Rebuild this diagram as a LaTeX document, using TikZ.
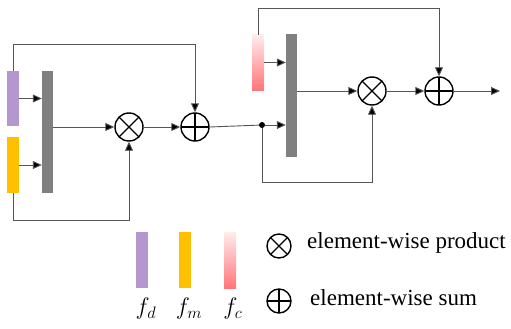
\documentclass[tikz,border=0pt]{standalone}
\usepackage{fontspec}
\setmainfont{Liberation Serif}
\usetikzlibrary{arrows.meta}
\definecolor{fdpurple}{RGB}{180,151,207}
\definecolor{fmyellow}{RGB}{255,192,0}
\definecolor{fcpinktop}{RGB}{255,236,236}
\definecolor{fcpinkbot}{RGB}{255,118,122}
\definecolor{catgray}{RGB}{128,128,128}
\definecolor{wiregray}{RGB}{85,85,85}
\newcommand{\featname}[1]{\scalebox{1.15}{\huge$#1$}}
\tikzset{
  bar/.style={rectangle,inner sep=0pt,minimum width=12pt,minimum height=55pt,draw=none},
  catbar/.style={rectangle,inner sep=0pt,minimum width=11pt,fill=catgray,draw=none},
  pinkbar/.style={bar,top color=fcpinktop,bottom color=fcpinkbot},
  wire/.style={draw=wiregray,line width=0.9pt},
  flow/.style={wire,-{Triangle[length=9pt,width=8pt,fill=black]}},
  prodop/.style={circle,draw=black,line width=1.4pt,inner sep=0pt,minimum size=#1,
    path picture={\draw[line width=1.2pt] (path picture bounding box.north west) -- (path picture bounding box.south east)
      (path picture bounding box.north east) -- (path picture bounding box.south west);}},
  sumop/.style={circle,draw=black,line width=1.4pt,inner sep=0pt,minimum size=#1,
    path picture={\draw[line width=1.2pt] (path picture bounding box.north) -- (path picture bounding box.south)
      (path picture bounding box.east) -- (path picture bounding box.west);}}
}
\begin{document}
\begin{tikzpicture}[x=1pt,y=-1pt]
\useasboundingbox (0,0) rectangle (511,329);
% first fusion stage
\node[bar,fill=fdpurple] (fd) at (13,98.5) {};
\node[bar,fill=fmyellow,minimum height=56pt] (fm) at (13,165) {};
\node[catbar,minimum height=122pt] (cat1) at (47.5,132) {};
\node[prodop=28pt] (mul1) at (129,127) {};
\node[sumop=28pt] (add1) at (195,127) {};
\draw[flow] (fd.east) -- (fd.east -| cat1.west);
\draw[flow] (fm.east) -- (fm.east -| cat1.west);
\draw[flow] (mul1 -| cat1.east) -- (mul1.west);
\draw[flow] (mul1.east) -- (add1.west);
\draw[flow] (fd.north) -- (fd.north |- 0,44) -| (add1.north);
\draw[flow] (fm.south) -- (fm.south |- 0,220) -| (mul1.south);
% second fusion stage
\node[pinkbar] (fc) at (258,62.5) {};
\node[catbar,minimum height=123pt] (cat2) at (291.5,95.5) {};
\node[circle,fill=black,inner sep=0pt,minimum size=6pt] (dot) at (262,125) {};
\node[prodop=28pt] (mul2) at (372,91) {};
\node[sumop=28pt] (add2) at (439,91) {};
\coordinate (out) at (500,91);
\draw[wire] (add1.east) -- (dot);
\draw[flow] (dot) -- (dot -| cat2.west);
\draw[flow] (fc.east) -- (fc.east -| cat2.west);
\draw[flow] (mul2 -| cat2.east) -- (mul2.west);
\draw[flow] (mul2.east) -- (add2.west);
\draw[flow] (add2.east) -- (out);
\draw[flow] (fc.north) -- (fc.north |- 0,8) -| (add2.north);
\draw[flow] (dot) -- (dot |- 0,182) -| (mul2.south);
% legend
\node[bar,fill=fdpurple,minimum height=56pt] (lgd) at (142,260) {};
\node[bar,fill=fmyellow,minimum height=56pt] (lgm) at (185,260) {};
\node[pinkbar,minimum height=56pt] (lgc) at (230,260) {};
\node (labd) at (146,309) {\featname{f_d}};
\node (labm) at (189,309) {\featname{f_m}};
\node (labc) at (233,309) {\featname{f_c}};
\node[prodop=24pt] (lgprod) at (279,246) {};
\node[sumop=24pt] (lgsum) at (279,301) {};
\node[anchor=west,inner sep=0pt,font=\fontsize{23}{26}\selectfont] (txtprod) at (307,243) {element-wise product};
\node[anchor=west,inner sep=0pt,font=\fontsize{23}{26}\selectfont] (txtsum) at (310,298) {element-wise sum};
\end{tikzpicture}
\end{document}
